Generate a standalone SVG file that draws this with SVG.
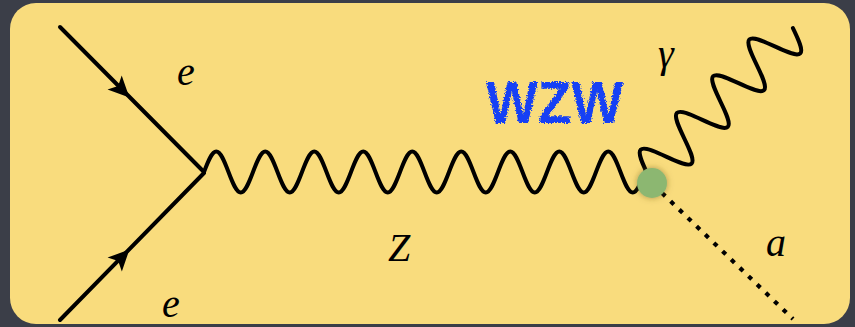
<svg xmlns="http://www.w3.org/2000/svg" width="855" height="327" viewBox="0 0 855 327">
<style>
.line{fill:none;stroke:#000;stroke-width:4;stroke-linejoin:round;stroke-linecap:round}
.dotted{fill:none;stroke:#000;stroke-width:4.2;stroke-dasharray:4.5 7.5}
.lbl{font-family:"Liberation Serif","DejaVu Serif",serif;font-style:italic;font-size:40px;fill:#000}
.wzw{font-family:"Liberation Sans","DejaVu Sans",sans-serif;font-weight:bold;font-size:60px;fill:#1341f5}
</style>
<defs>
<path id="arrow" d="M2,0 L-19,-10 L-14,0 L-19,10 Z" fill="#000"/>
<filter id="glow" x="-50%" y="-50%" width="200%" height="200%">
<feDropShadow dx="0" dy="0" stdDeviation="3" flood-color="#6b5a1a" flood-opacity="0.55"/>
</filter>
<filter id="rough" x="-10%" y="-10%" width="120%" height="120%">
<feTurbulence type="fractalNoise" baseFrequency="0.7" numOctaves="2" seed="3" result="n"/>
<feDisplacementMap in="SourceGraphic" in2="n" scale="5" xChannelSelector="R" yChannelSelector="G"/>
</filter>
</defs>
<rect x="0" y="0" width="855" height="327" fill="#3b3e48"/>
<rect x="10" y="3" width="840" height="321" rx="26" ry="26" fill="#f9dc7d"/>
<g id="connectors">
<g id="e-in-top">
<line class="line" x1="60" y1="27" x2="204" y2="172"/>
<use href="#arrow" transform="translate(128,96) rotate(45.2)"/>
</g>
<g id="e-in-bottom">
<line class="line" x1="60" y1="320" x2="204" y2="173"/>
<use href="#arrow" transform="translate(128,251) rotate(-45.6)"/>
</g>
<path id="Z-propagator" class="line" d="M204,172 c4.1,-10.76 7.84,-20.5 12.25,-20.5 s8.16,9.74 12.25,20.5 s7.84,20.5 12.25,20.5 s8.16,-9.74 12.25,-20.5 s7.84,-20.5 12.25,-20.5 s8.16,9.74 12.25,20.5 s7.84,20.5 12.25,20.5 s8.16,-9.74 12.25,-20.5 s7.84,-20.5 12.25,-20.5 s8.16,9.74 12.25,20.5 s7.84,20.5 12.25,20.5 s8.16,-9.74 12.25,-20.5 s7.84,-20.5 12.25,-20.5 s8.16,9.74 12.25,20.5 s7.84,20.5 12.25,20.5 s8.16,-9.74 12.25,-20.5 s7.84,-20.5 12.25,-20.5 s8.16,9.74 12.25,20.5 s7.84,20.5 12.25,20.5 s8.16,-9.74 12.25,-20.5 s7.84,-20.5 12.25,-20.5 s8.16,9.74 12.25,20.5 s7.84,20.5 12.25,20.5 s8.16,-9.74 12.25,-20.5 s7.84,-20.5 12.25,-20.5 s8.16,9.74 12.25,20.5 s7.84,20.5 12.25,20.5 s8.16,-9.74 12.25,-20.5 s7.84,-20.5 12.25,-20.5 s8.16,9.74 12.25,20.5 s7.84,20.5 12.25,20.5 s8.16,-9.74 12.25,-20.5 s7.84,-20.5 12.25,-20.5 s8.16,9.74 12.25,20.5 s7.84,20.5 12.25,20.5 s8.16,-9.74 12.25,-20.5"/>
<path id="photon" class="line" transform="translate(648,175) rotate(-45.4)" d="M0,0 c4.31,-12.1 8.26,-23 12.9,-23 s8.59,10.9 12.9,23 s8.26,23 12.9,23 s8.59,-10.9 12.9,-23 s8.26,-23 12.9,-23 s8.59,10.9 12.9,23 s8.26,23 12.9,23 s8.59,-10.9 12.9,-23 s8.26,-23 12.9,-23 s8.59,10.9 12.9,23 s8.26,23 12.9,23 s8.59,-10.9 12.9,-23 s8.26,-23 12.9,-23 s8.59,10.9 12.9,23 s8.26,23 12.9,23 s8.59,-10.9 12.9,-23"/>
<line id="axion" class="dotted" x1="662" y1="193" x2="793" y2="319"/>
</g>
<g id="vertex-wzw">
<circle cx="652" cy="183" r="15" fill="#8cb771" filter="url(#glow)"/>
</g>
<g id="labels">
<text class="lbl" x="177" y="85">e</text>
<text class="lbl" x="162" y="317">e</text>
<text class="lbl" x="388" y="261">Z</text>
<text class="lbl" x="658" y="67">γ</text>
<text class="lbl" x="766" y="256">a</text>
<text class="wzw" x="486" y="123" textLength="137" lengthAdjust="spacingAndGlyphs" filter="url(#rough)">WZW</text>
</g>
</svg>
